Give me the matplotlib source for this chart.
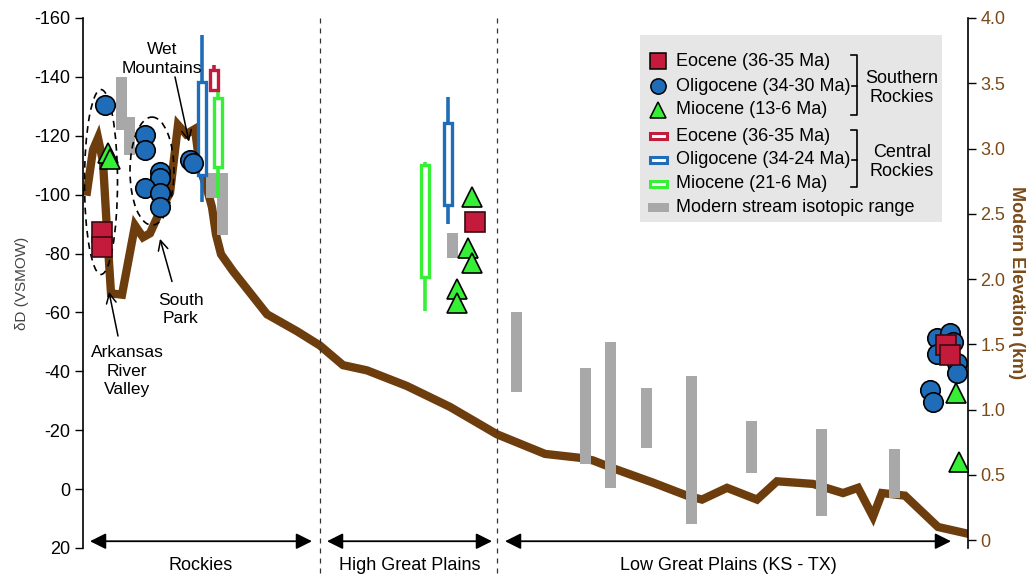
import matplotlib.pyplot as plt
from matplotlib.patches import Ellipse, Rectangle
from matplotlib.lines import Line2D

plt.rcParams['font.family'] = ['Liberation Sans', 'DejaVu Sans']
plt.rcParams['axes.unicode_minus'] = False

# modern topographic profile along the transect (position, elevation in km)
profile_x = [4, 10, 15, 20, 24, 28, 39, 52, 60, 67, 77, 87, 91, 95, 103, 112,
             117, 124, 129, 133, 138, 150, 184, 214, 237, 260, 284, 324, 367,
             414, 462, 497, 510, 530, 570, 604, 619, 644, 674, 694, 730, 760,
             775, 790, 799, 822, 855, 884]
profile_km = [2.67, 2.99, 3.08, 2.90, 2.37, 1.89, 1.88, 2.41, 2.32, 2.35, 2.52,
              2.66, 2.92, 3.18, 3.11, 3.15, 2.85, 2.69, 2.55, 2.34, 2.19, 2.06,
              1.73, 1.60, 1.49, 1.34, 1.30, 1.18, 1.02, 0.81, 0.66, 0.63, 0.61,
              0.55, 0.44, 0.34, 0.31, 0.40, 0.31, 0.45, 0.43, 0.36, 0.40, 0.18,
              0.36, 0.34, 0.10, 0.05]

# modern stream water dD ranges
stream_x = [38, 46, 128, 139, 369, 433, 502, 527, 563, 608, 668, 738, 811]
stream_lo = [-140, -126.5, -107.5, -107.5, -87, -60, -41, -50, -34.5, -38.5, -23, -20.5, -13.5]
stream_hi = [-122, -113.5, -99, -86.3, -78.5, -33, -8.5, -0.5, -14, 12, -5.5, 9, 3]

# Central Rockies ranges: box and whisker limits (dD)
central_period = ['Oligocene', 'Miocene', 'Eocene', 'Miocene', 'Oligocene']
central_x = [119, 135, 131, 342, 365]
box_top = [-138.4, -132.7, -142.5, -110.1, -124.4]
box_bot = [-106.7, -109.3, -135.5, -71.9, -96.5]
whisk_top = [-154.2, -137.8, -144.0, -111.2, -133.1]
whisk_bot = [-97.6, -98.8, -135.5, -60.6, -90.0]

# Southern Rockies samples
eocene_x = [19, 19, 392, 863, 867]
eocene_d = [-87.4, -82.3, -90.6, -48.9, -45.5]
oligocene_x = [22, 62, 62, 77, 77, 62, 77, 77, 107, 110,
               854, 867, 870, 854, 874, 874, 847, 850]
oligocene_d = [-130.4, -120.3, -115.2, -107.8, -105.7, -102.2, -100.5, -95.8, -111.8, -110.6,
               -51.2, -52.9, -50.1, -45.9, -42.7, -39.3, -33.6, -29.6]
miocene_x = [25, 27, 389, 385, 389, 374, 374, 873, 876]
miocene_d = [-114, -112, -99.1, -81.8, -76.9, -67.8, -63.3, -32.5, -9.3]

regions = ['Rockies', 'High Great Plains', 'Low Great Plains (KS - TX)']
region_from = [7, 244, 422]
region_to = [229, 409, 868]
dividers = [237, 414]

brown = '#6E3D0E'
red = '#C41A3B'
blue = '#1F6DB8'
green = '#36F036'
gray = '#A8A8A8'
period_color = {'Eocene': red, 'Oligocene': blue, 'Miocene': green}

W, H = 1033, 578
fig = plt.figure(figsize=(W / 100, H / 100), dpi=100)
ax_el = fig.add_axes([83 / W, 1 - 548 / H, 885 / W, 530 / H])
ax = ax_el.twinx()

# elevation axis (right)
ax_el.plot(profile_x, profile_km, color=brown, lw=6, solid_joinstyle='miter')
ax_el.set_xlim(0, 885)
ax_el.set_ylim(-0.061, 3.994)
ax_el.set_xticks([])
ax_el.yaxis.tick_right()
ax_el.yaxis.set_label_position('right')
ax_el.set_yticks([0, 0.5, 1, 1.5, 2, 2.5, 3, 3.5, 4])
ax_el.set_yticklabels(['0', '0.5', '1.0', '1.5', '2.0', '2.5', '3.0', '3.5', '4.0'])
ax_el.tick_params(axis='y', direction='out', length=6, width=1, labelsize=13,
                  labelcolor='#7A4A18', pad=3)
ax_el.set_ylabel('Modern Elevation (km)', rotation=270, color='#7A4A18',
                 fontsize=13, fontweight='bold', labelpad=14)
for s in ['top', 'bottom', 'left']:
    ax_el.spines[s].set_visible(False)
ax_el.spines['right'].set_linewidth(1.2)

# isotope axis (left)
ax.set_xlim(0, 885)
ax.set_ylim(20, -160)
ax.yaxis.tick_left()
ax.yaxis.set_label_position('left')
ax.set_yticks(range(-160, 21, 20))
ax.tick_params(axis='y', direction='out', length=6, width=1, labelsize=13, pad=3)
ax.set_ylabel('δD (VSMOW)', fontsize=11, color='#444444', labelpad=4)
for s in ['top', 'bottom', 'right']:
    ax.spines[s].set_visible(False)
ax.spines['left'].set_linewidth(1.2)

# modern streams
for x, lo, hi in zip(stream_x, stream_lo, stream_hi):
    ax.bar(x, hi - lo, bottom=lo, width=11, color=gray, zorder=2)

# Central Rockies boxes
for per, x, bt, bb, wt, wb in zip(central_period, central_x, box_top, box_bot, whisk_top, whisk_bot):
    c = period_color[per]
    ax.plot([x, x], [wt, wb], color=c, lw=2.6, solid_capstyle='butt', zorder=3)
    ax.add_patch(Rectangle((x - 4, bt), 8, bb - bt, facecolor='white',
                           edgecolor=c, lw=2.4, zorder=3))

# dashed groupings
ax.add_patch(Ellipse((18, -104.3), 33, 62.8, fill=False, ls=(0, (4, 3)), lw=1.2, zorder=3))
ax.add_patch(Ellipse((69, -108.0), 44, 36.7, fill=False, ls=(0, (4, 3)), lw=1.2, zorder=3))

# Southern Rockies samples
ax.plot(oligocene_x, oligocene_d, 'o', ms=14, mfc=blue, mec='black', mew=1.2, ls='none', zorder=4)
ax.plot(eocene_x, eocene_d, 's', ms=14, mfc=red, mec='#3a0a10', mew=1.2, ls='none', zorder=5)
ax.plot(miocene_x, miocene_d, '^', ms=15, mfc=green, mec='black', mew=1.2, ls='none', zorder=5)

# locality labels
arrow = dict(arrowstyle='->,head_length=0.7,head_width=0.35', color='black', lw=1.1,
             shrinkA=0, shrinkB=0)
ax.text(79, -146, 'Wet\nMountains', ha='center', va='center', fontsize=12.5, linespacing=1.3)
ax.annotate('', xy=(106, -118), xytext=(92, -140), arrowprops=arrow)
ax.text(98, -61, 'South\nPark', ha='center', va='center', fontsize=12.5, linespacing=1.3)
ax.annotate('', xy=(77, -85), xytext=(89, -70.5), arrowprops=arrow)
ax.text(44, -40, 'Arkansas\nRiver\nValley', ha='center', va='center', fontsize=12.5, linespacing=1.3)
ax.annotate('', xy=(26, -67), xytext=(35, -52), arrowprops=arrow)

# region dividers and spans
for x in dividers:
    ax.plot([x, x], [-160, 29.2], color='#333333', lw=0.9, ls=(0, (4, 4)), clip_on=False, zorder=1)
for name, a, b in zip(regions, region_from, region_to):
    ax.annotate('', xy=(a, 17.7), xytext=(b, 17.7), annotation_clip=False,
                arrowprops=dict(arrowstyle='<|-|>,head_length=0.6,head_width=0.3',
                                color='black', lw=1.3, shrinkA=0, shrinkB=0, mutation_scale=16))
    ax.text((a + b) / 2, 25.8, name, ha='center', va='center', fontsize=13, clip_on=False)


# legend panel (figure pixel positions)
def fp(x, y):
    return x / W, 1 - y / H


fig.add_artist(Rectangle(fp(640, 222), 302 / W, 187 / H, transform=fig.transFigure,
                         facecolor='#E6E6E6', edgecolor='none', zorder=1))
leg_rows = [61, 86, 110, 136, 160, 184, 208]
leg_text = ['Eocene (36-35 Ma)', 'Oligocene (34-30 Ma)', 'Miocene (13-6 Ma)',
            'Eocene (36-35 Ma)', 'Oligocene (34-24 Ma)', 'Miocene (21-6 Ma)',
            'Modern stream isotopic range']
for (m, fc), y in zip([('s', red), ('o', blue), ('^', green)], leg_rows[:3]):
    fig.add_artist(Line2D([fp(658, y)[0]], [fp(658, y)[1]], marker=m, ms=11, mfc=fc,
                          mec='black', mew=1.1, ls='none', transform=fig.transFigure, zorder=2))
for c, y in zip([red, blue, green], leg_rows[3:6]):
    fig.add_artist(Rectangle(fp(650, y + 3), 17 / W, 6 / H, transform=fig.transFigure,
                             facecolor='white', edgecolor=c, lw=2.2, zorder=2))
fig.add_artist(Rectangle(fp(648, 212), 21 / W, 9 / H, transform=fig.transFigure,
                         facecolor=gray, edgecolor='none', zorder=2))
for t, y in zip(leg_text, leg_rows):
    fig.text(*fp(676, y), t, fontsize=13, va='center', ha='left', zorder=3)

for top, mid, bot in [(55, 86, 115), (130, 160, 187)]:
    xs = [fp(851, top)[0], fp(857, top)[0], fp(857, bot)[0], fp(851, bot)[0]]
    ys = [fp(851, top)[1], fp(857, top)[1], fp(857, bot)[1], fp(851, bot)[1]]
    fig.add_artist(Line2D(xs, ys, color='black', lw=1.2, transform=fig.transFigure, zorder=3))
    fig.add_artist(Line2D([fp(852, mid)[0], fp(857, mid)[0]], [fp(852, mid)[1]] * 2,
                          color='black', lw=1.2, transform=fig.transFigure, zorder=3))
fig.text(*fp(902, 88), 'Southern\nRockies', fontsize=13, ha='center', va='center', linespacing=1.15, zorder=3)
fig.text(*fp(902, 162), 'Central\nRockies', fontsize=13, ha='center', va='center', linespacing=1.15, zorder=3)

fig.savefig('out.png', dpi=100)
